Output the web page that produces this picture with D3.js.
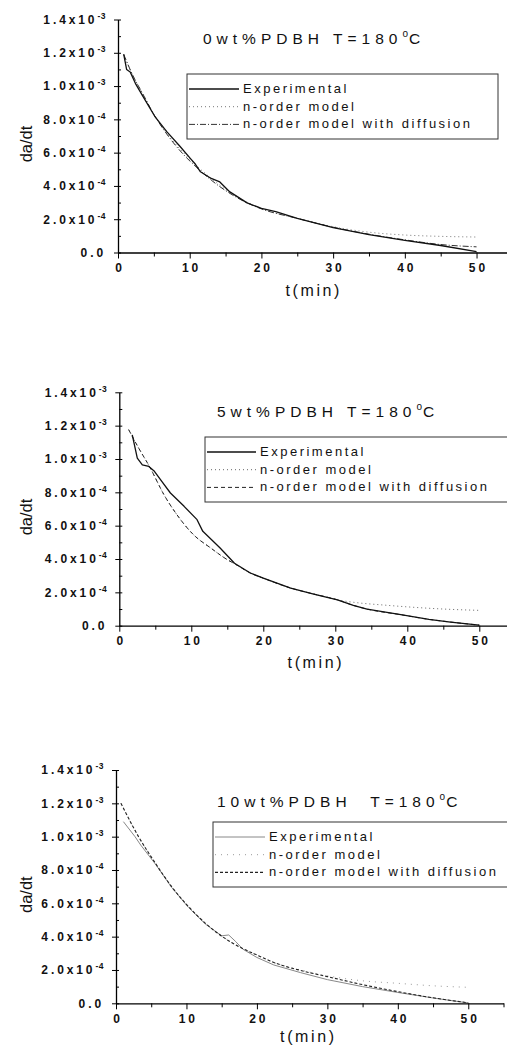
<!DOCTYPE html>
<html>
<head>
<meta charset="utf-8">
<script src="https://cdn.jsdelivr.net/npm/d3@7"></script>
<style>
  body { margin: 0; background: #fff; }
  svg { display: block; font-family: "Liberation Sans", Arial, sans-serif; }
  .tickl { font-size: 12px; font-weight: bold; letter-spacing: 2.9px; fill: #111; }
  .title { font-size: 15.5px; letter-spacing: 5px; fill: #111; }
  .leg { font-size: 13px; letter-spacing: 2.5px; fill: #111; }
  .ylab { font-size: 16.5px; fill: #111; }
  .xlab { font-size: 16px; letter-spacing: 2.6px; fill: #111; }
</style>
</head>
<body>
<script>
// ---- data (t in min, da/dt) ----
const seriesNames = ["Experimental", "n-order model", "n-order model with diffusion"];
const titles = ["0wt%PDBH T=180", "5wt%PDBH T=180", "10wt%PDBH\u00a0\u00a0T=180"];
const xTicks = [0, 10, 20, 30, 40, 50];
const xMinor = [5, 15, 25, 35, 45, 55];
const yTicks = [0, 2e-4, 4e-4, 6e-4, 8e-4, 1.0e-3, 1.2e-3, 1.4e-3];
const yMinor = [1e-4, 3e-4, 5e-4, 7e-4, 9e-4, 1.1e-3, 1.3e-3];
const yTickText = [["0.0", ""], ["2.0x10", "-4"], ["4.0x10", "-4"], ["6.0x10", "-4"], ["8.0x10", "-4"],
                   ["1.0x10", "-3"], ["1.2x10", "-3"], ["1.4x10", "-3"]];

// 0 wt% PDBH
const exp0 = [[0.8,1.19e-3],[1.2,1.10e-3],[1.7,1.085e-3],[2.5,1.01e-3],[3.5,9.37e-4],[5.1,8.2e-4],[6.8,7.26e-4],
  [8.6,6.4e-4],[10.2,5.6e-4],[10.8,5.3e-4],[11.5,4.85e-4],[13,4.45e-4],[14.2,4.24e-4],[15.6,3.64e-4],[18,2.98e-4],
  [20,2.65e-4],[22,2.45e-4],[25,2.05e-4],[30,1.5e-4],[35,1.08e-4],[40,7.3e-5],[45,4.2e-5],[50,5e-6]];
const ord0 = [[0.8,1.19e-3],[2,1.07e-3],[3.5,9.5e-4],[5,8.3e-4],[7,7.05e-4],[9,6.05e-4],[11,5.2e-4],[13,4.45e-4],
  [15,3.8e-4],[17,3.25e-4],[20,2.65e-4],[25,2.05e-4],[30,1.55e-4],[35,1.22e-4],[40,1.05e-4],[45,9.7e-5],[50,9.3e-5]];
const dif0 = [[0.8,1.19e-3],[2,1.07e-3],[3.5,9.5e-4],[5,8.3e-4],[7,7.0e-4],[9,5.95e-4],[11,5.1e-4],[13,4.35e-4],
  [15,3.72e-4],[17,3.2e-4],[20,2.62e-4],[25,2.05e-4],[30,1.52e-4],[35,1.1e-4],[40,7.6e-5],[45,4.8e-5],[50,3.4e-5]];

// 5 wt% PDBH
const exp1 = [[1.8,1.145e-3],[2.5,1.005e-3],[3.2,9.65e-4],[4.1,9.55e-4],[4.8,9.3e-4],[5.9,8.66e-4],[7.1,7.96e-4],
  [9,7.16e-4],[10.8,6.36e-4],[11.6,5.66e-4],[14,4.66e-4],[16,3.75e-4],[18.2,3.16e-4],[20,2.85e-4],[23.8,2.26e-4],
  [27,1.9e-4],[30.3,1.55e-4],[32.5,1.22e-4],[34.4,1.0e-4],[39.1,6.6e-5],[43,3.8e-5],[46,2.2e-5],[50,3e-6]];
const ord1 = [[1.3,1.176e-3],[2.5,1.08e-3],[4.3,9.46e-4],[6.2,7.86e-4],[8,6.66e-4],[10.3,5.46e-4],[12.7,4.66e-4],
  [15,3.96e-4],[16,3.72e-4],[18.2,3.16e-4],[20,2.85e-4],[23.8,2.26e-4],[27,1.9e-4],[30.3,1.55e-4],[33,1.38e-4],
  [36.7,1.24e-4],[40,1.13e-4],[45,1.0e-4],[50,9.2e-5]];
const dif1 = [[1.3,1.176e-3],[2.5,1.08e-3],[4.3,9.46e-4],[6.2,7.86e-4],[8,6.66e-4],[10.3,5.46e-4],[12.7,4.66e-4],
  [15,3.96e-4],[16,3.72e-4],[18.2,3.16e-4],[20,2.85e-4],[23.8,2.26e-4],[27,1.9e-4],[30.3,1.55e-4],[32.5,1.22e-4],
  [34.4,1.0e-4],[39.1,6.6e-5],[43,3.8e-5],[46,2.2e-5],[50,3e-6]];

// 10 wt% PDBH
const exp2 = [[1.05,1.09e-3],[2.7,1.0e-3],[3.5,9.5e-4],[5.6,8.35e-4],[7.9,6.95e-4],[10.3,5.75e-4],[12.7,4.75e-4],
  [15,4.05e-4],[16,4.1e-4],[17,3.7e-4],[18,3.25e-4],[20,2.75e-4],[22.4,2.3e-4],[26.2,1.84e-4],[30,1.42e-4],
  [35,1.0e-4],[40,6.5e-5],[45,3.2e-5],[50,2e-6]];
const ord2 = [[0.7,1.2e-3],[3.2,1.0e-3],[5.6,8.4e-4],[7.9,7.0e-4],[10.3,5.8e-4],[12.7,4.8e-4],[15.1,4.0e-4],
  [17.9,3.3e-4],[20,2.9e-4],[22.4,2.45e-4],[26.2,2.0e-4],[30,1.65e-4],[35,1.35e-4],[40,1.2e-4],[45,1.05e-4],[50,9.6e-5]];
const dif2 = [[0.7,1.2e-3],[3.2,1.0e-3],[5.6,8.4e-4],[7.9,7.0e-4],[10.3,5.8e-4],[12.7,4.8e-4],[15.1,4.0e-4],
  [17.9,3.3e-4],[20,2.9e-4],[22.4,2.45e-4],[26.2,1.97e-4],[30,1.6e-4],[35,1.12e-4],[40,7e-5],[45,3.3e-5],[50,3e-6]];

// line styles per panel: [experimental, n-order, diffusion]
const styles = [
  [{c: "#111", w: 1.3, d: null}, {c: "#777", w: 1, d: "1,3"}, {c: "#333", w: 1, d: "6,2,1,2"}],
  [{c: "#111", w: 1.3, d: null}, {c: "#666", w: 1, d: "1,3"}, {c: "#222", w: 1, d: "4,3"}],
  [{c: "#888", w: 1, d: null}, {c: "#999", w: 1, d: "1,5"}, {c: "#222", w: 1.1, d: "3,2"}]
];

// panel layout (pixels)
const panels = [
  {series: [ord0, dif0, exp0], order: [1, 2, 0], left: 118, right: 512.4, top: 19.5, bottom: 252.5, xlabDy: 43,
   titleX: 203, titleY: 44, legend: {x: 187, y: 74, w: 311, h: 65, tx: 243}},
  {series: [ord1, dif1, exp1], order: [1, 2, 0], left: 119.3, right: 515.3, top: 392.3, bottom: 625.7, xlabDy: 42,
   titleX: 217, titleY: 416.5, legend: {x: 205, y: 437, w: 320, h: 65, tx: 260}},
  {series: [ord2, exp2, dif2], order: [1, 0, 2], left: 116, right: 503.5, top: 770, bottom: 1003.3, xlabDy: 39,
   titleX: 217, titleY: 806.5, legend: {x: 213, y: 822, w: 320, h: 65, tx: 269}}
];

const svg = d3.select("body").append("svg")
    .attr("width", 507)
    .attr("height", 1048);

panels.forEach((p, pi) => {
    const x = d3.scaleLinear().domain([0, 55]).range([p.left, p.right]);
    const y = d3.scaleLinear().domain([0, 1.4e-3]).range([p.bottom, p.top]);
    const st = styles[pi];

    const g = svg.append("g");

    // curves: models smooth, measured curve straight segments
    const smooth = d3.line()
        .x(d => x(d[0]))
        .y(d => y(d[1]))
        .curve(d3.curveMonotoneX);
    const raw = d3.line()
        .x(d => x(d[0]))
        .y(d => y(d[1]));

    p.series.forEach((s, k) => {
        const sty = st[p.order[k]];
        g.append("path")
            .datum(s)
            .attr("d", p.order[k] === 0 ? raw : smooth)
            .attr("fill", "none")
            .attr("stroke", sty.c)
            .attr("stroke-width", sty.w)
            .attr("stroke-linejoin", "round")
            .attr("stroke-dasharray", sty.d);
    });

    // minor ticks
    g.append("g")
        .attr("transform", `translate(0,${p.bottom})`)
        .call(d3.axisBottom(x).tickValues(xMinor).tickSize(4).tickFormat(""))
        .call(a => a.select(".domain").remove());
    g.append("g")
        .attr("transform", `translate(${p.left},0)`)
        .call(d3.axisLeft(y).tickValues(yMinor).tickSize(-3).tickFormat(""))
        .call(a => a.select(".domain").remove());

    // x axis
    const xa = g.append("g")
        .attr("transform", `translate(0,${p.bottom})`)
        .call(d3.axisBottom(x).tickValues(xTicks).tickSizeInner(6).tickSizeOuter(0).tickPadding(5));
    xa.selectAll(".tick text").attr("class", "tickl").attr("dx", "1.4px");
    xa.select(".domain").attr("stroke-width", 1.3);

    // y axis
    const ya = g.append("g")
        .attr("transform", `translate(${p.left},0)`)
        .call(d3.axisLeft(y).tickValues(yTicks).tickSizeInner(4).tickSizeOuter(0));
    ya.select(".domain").attr("stroke-width", 1.3);
    ya.selectAll(".tick line").attr("x2", 3).attr("x1", -4);
    ya.selectAll(".tick text").each(function(d, i) {
        const t = d3.select(this).text("").attr("class", "tickl").attr("x", -12);
        t.append("tspan").text(yTickText[i][0]);
        if (yTickText[i][1]) {
            t.append("tspan").attr("dy", "-5").attr("font-size", "8.5px").attr("letter-spacing", "0.5px").text(yTickText[i][1]);
        }
    });

    // axis titles
    g.append("text")
        .attr("class", "ylab")
        .attr("transform", `translate(32,${(p.top + p.bottom) / 2 + 8}) rotate(-90)`)
        .attr("text-anchor", "middle")
        .text("da/dt");

    g.append("text")
        .attr("class", "xlab")
        .attr("x", x(27.3))
        .attr("y", p.bottom + p.xlabDy)
        .attr("text-anchor", "middle")
        .text("t(min)");

    // panel title
    const tt = g.append("text")
        .attr("class", "title")
        .attr("x", p.titleX)
        .attr("y", p.titleY);
    tt.append("tspan").text(titles[pi]);
    tt.append("tspan").attr("dy", -7).attr("font-size", "10px").attr("letter-spacing", "1px").text("o");
    tt.append("tspan").attr("dy", 7).text("C");

    // legend
    const L = p.legend;
    g.append("rect")
        .attr("x", L.x).attr("y", L.y)
        .attr("width", L.w).attr("height", L.h)
        .attr("fill", "#fff")
        .attr("stroke", "#333")
        .attr("stroke-width", 1);

    seriesNames.forEach((name, k) => {
        const by = L.y + 19 + k * 17.7;
        const sty = st[k];
        g.append("line")
            .attr("x1", L.x + 2).attr("x2", L.tx - 4)
            .attr("y1", by - 4).attr("y2", by - 4)
            .attr("stroke", sty.c)
            .attr("stroke-width", sty.w)
            .attr("stroke-dasharray", sty.d);
        g.append("text")
            .attr("class", "leg")
            .attr("x", L.tx)
            .attr("y", by)
            .text(name);
    });
});
</script>
</body>
</html>
